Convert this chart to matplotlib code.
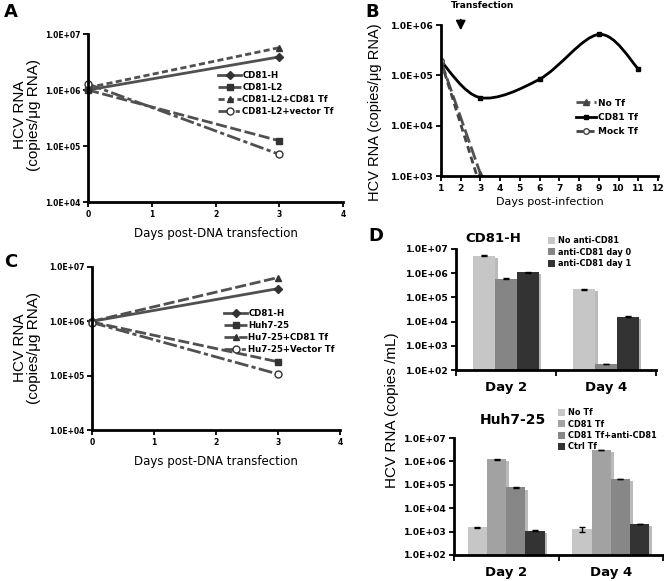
import matplotlib
matplotlib.use("Agg")
import matplotlib.pyplot as plt
import matplotlib.patheffects as pe
from matplotlib.path import Path
from matplotlib.patches import PathPatch, Patch
from matplotlib.ticker import FixedLocator, FuncFormatter, NullLocator
import numpy as np

plt.rcParams['font.family'] = ['DejaVu Sans']
plt.rcParams['font.weight'] = 'bold'

# ---- panel A data ----
a_days = [0, 3]
a_cd81h = [1.0e6, 3.9e6]
a_l2 = [1.0e6, 1.24e5]
a_l2_cd81 = [1.1e6, 5.7e6]
a_l2_vec = [1.28e6, 7.1e4]
a_labels = ["CD81-H", "CD81-L2", "CD81-L2+CD81 Tf", "CD81-L2+vector Tf"]

# ---- panel C data ----
c_days = [0, 3]
c_cd81h = [1.0e6, 4.0e6]
c_huh = [0.97e6, 1.8e5]
c_huh_cd81 = [1.0e6, 6.4e6]
c_huh_vec = [0.95e6, 1.07e5]
c_labels = ["CD81-H", "Huh7-25", "Hu7-25+CD81 Tf", "Hu7-25+Vector Tf"]

# ---- panel B data ----
b_days_cd81 = [1, 3, 6, 9, 11]
b_cd81 = [1.9e5, 3.6e4, 8.4e4, 6.5e5, 1.35e5]
b_days_short = [1, 3]
b_notf = [1.9e5, 1.1e3]
b_mock = [1.9e5, 6.0e2]
b_labels = ["No Tf", "CD81 Tf", "Mock Tf"]

# ---- panel D data ----
d_groups = ["Day 2", "Day 4"]
d_top_labels = ["No anti-CD81", "anti-CD81 day 0", "anti-CD81 day 1"]
d_top_vals = [[5.3e6, 2.2e5], [5.8e5, 1.7e2], [1.1e6, 1.6e4]]
d_top_err = [[3e5, 1e4], [3e4, 0], [5e4, 5e2]]
d_top_colors = ['#c6c6c6', '#858585', '#333333']
d_bot_labels = ["No Tf", "CD81 Tf", "CD81 Tf+anti-CD81", "Ctrl Tf"]
d_bot_vals = [[1.5e3, 1.25e3], [1.25e6, 3.1e6], [7.7e4, 1.8e5], [1.1e3, 2.1e3]]
d_bot_err = [[6e1, 2.5e2], [5e4, 0], [3e3, 5e3], [5e1, 6e1]]
d_bot_colors = ['#c6c6c6', '#a2a2a2', '#878787', '#333333']

W, H = 664, 581
fig = plt.figure(figsize=(W / 100, H / 100), dpi=100)


def ax_px(l, t, r, b):
    return fig.add_axes([l / W, 1 - b / H, (r - l) / W, (b - t) / H])


sci = FuncFormatter(lambda v, p: f"{v:.1E}")
lc = '#505050'


def style(ax, fs, lw=2):
    for s in ['top', 'right']:
        ax.spines[s].set_visible(False)
    for s in ['left', 'bottom']:
        ax.spines[s].set_linewidth(lw)
    ax.tick_params(direction='out', width=1.3, length=3.5, labelsize=fs, pad=2)
    ax.yaxis.set_minor_locator(NullLocator())
    ax.yaxis.set_major_formatter(sci)


def line_panel(ax, days, series, labels, legend_xy, third_ls):
    styles = [dict(ls='-', marker='D', ms=4),
              dict(ls=(0, (4, 1.3)), marker='s', ms=5),
              dict(ls=third_ls, marker='^', ms=5),
              dict(ls=(0, (5, 1.2, 1.5, 1.2)), marker='o', ms=5, mfc='white')]
    hs = []
    for s, lab, st in zip(series, labels, styles):
        h, = ax.plot(days, s, color=lc, lw=2, mec='#333333',
                     mfc=st.pop('mfc', '#333333'), label=lab, clip_on=False, **st)
        hs.append(h)
    ax.set_yscale('log')
    ax.set_ylim(1e4, 1e7)
    ax.set_xlim(0, 4)
    ax.set_xticks([0, 1, 2, 3, 4])
    ax.yaxis.set_major_locator(FixedLocator([1e4, 1e5, 1e6, 1e7]))
    style(ax, 5.5)
    ax.set_xlabel("Days post-DNA transfection", fontsize=8.5, labelpad=6)
    ax.legend(handles=hs, loc='upper left', bbox_to_anchor=legend_xy,
              bbox_transform=fig.transFigure, frameon=False, fontsize=6.2,
              handlelength=2.6, handletextpad=0.2, labelspacing=0.35, borderpad=0)


# ---- A ----
axA = ax_px(88, 34, 343, 202)
line_panel(axA, a_days, [a_cd81h, a_l2, a_l2_cd81, a_l2_vec], a_labels,
           (214 / W, 1 - 67 / H), (0, (2.2, 1.2)))
fig.text(27 / W, 1 - 115 / H, "HCV RNA\n(copies/\u03bcg RNA)", rotation=90,
         ha='center', va='center', fontsize=11, fontweight='normal',
         family='Liberation Sans', linespacing=1.0)
fig.text(4 / W, 1 - 12 / H, "A", fontsize=13, ha='left', va='center')

# ---- C ----
axC = ax_px(92, 267, 340, 430)
line_panel(axC, c_days, [c_cd81h, c_huh, c_huh_cd81, c_huh_vec], c_labels,
           (220 / W, 1 - 305 / H), (0, (4, 1.3)))
fig.text(27 / W, 1 - 348 / H, "HCV RNA\n(copies/\u03bcg RNA)", rotation=90,
         ha='center', va='center', fontsize=11, fontweight='normal',
         family='Liberation Sans', linespacing=1.0)
fig.text(4 / W, 1 - 262 / H, "C", fontsize=13, ha='left', va='center')

# ---- B ----
axB = ax_px(441, 25, 658, 176)
axB.set_yscale('log')
pts = np.array([b_days_cd81, np.log10(b_cd81)]).T
ext = np.vstack([pts[0], pts, pts[-1]])
verts = [pts[0]]
codes = [Path.MOVETO]
for i in range(len(pts) - 1):
    p0, p1, p2, p3 = ext[i], ext[i + 1], ext[i + 2], ext[i + 3]
    verts += [p1 + (p2 - p0) / 6, p2 - (p3 - p1) / 6, p2]
    codes += [Path.CURVE4] * 3
verts = np.array(verts)
verts[:, 1] = 10 ** verts[:, 1]
axB.add_patch(PathPatch(Path(verts, codes), fill=False, lw=2, color='black'))
axB.plot(b_days_cd81, b_cd81, ls='none', marker='s', ms=3.5, color='black')
h_notf, = axB.plot(b_days_short, b_notf, ls=(0, (5, 1.5)), lw=2, color=lc,
                   marker='^', ms=4, mfc='#444444', mec='#444444')
h_mock, = axB.plot(b_days_short, b_mock, ls=(0, (2.5, 1.5)), lw=2, color='#444444',
                   marker='o', ms=4, mfc='white', mec='#444444')
h_cd81l, = axB.plot([], [], color='black', lw=2, marker='s', ms=3.5)
axB.set_ylim(1e3, 1e6)
axB.set_xlim(1, 12)
axB.set_xticks(range(1, 13))
axB.yaxis.set_major_locator(FixedLocator([1e3, 1e4, 1e5, 1e6]))
style(axB, 6.6)
axB.set_xlabel("Days post-infection", fontsize=8, labelpad=3)
axB.legend(handles=[h_notf, h_cd81l, h_mock], labels=b_labels, loc='upper left',
           bbox_to_anchor=(571 / W, 1 - 94 / H), bbox_transform=fig.transFigure,
           frameon=False, fontsize=6.5, handlelength=2.3, handletextpad=0.2,
           labelspacing=0.6, borderpad=0)
axB.annotate('', xy=(2, 6.9e5), xytext=(2, 1.45e6), annotation_clip=False,
             arrowprops=dict(arrowstyle='-|>', lw=1.3, color='black', mutation_scale=14))
fig.text(483 / W, 1 - 6 / H, "Transfection", fontsize=6.5, ha='center', va='center')
fig.text(375 / W, 1 - 112 / H, "HCV RNA (copies/\u03bcg RNA)", rotation=90,
         ha='center', va='center', fontsize=10.5, fontweight='normal',
         family='Liberation Sans')
fig.text(365 / W, 1 - 12 / H, "B", fontsize=13, ha='left', va='center')


# ---- D ----
def bar_panel(ax, vals, errs, colors, labels, width, legend_xy):
    n = len(vals)
    x = np.arange(len(d_groups)) + 0.5
    for k in range(n):
        xs = x + (k - (n - 1) / 2) * width
        ax.bar(xs, vals[k], width=width, color=colors[k],
               path_effects=[pe.SimplePatchShadow(offset=(2, -1.5), shadow_rgbFace='0.55',
                                                  alpha=0.6), pe.Normal()])
        ax.errorbar(xs, vals[k], yerr=errs[k], fmt='none', ecolor='black',
                    elinewidth=1, capsize=2.5, capthick=1)
    hs = [Patch(facecolor=c, label=l) for c, l in zip(colors, labels)]
    ax.set_yscale('log')
    ax.set_ylim(1e2, 1e7)
    ax.set_xlim(0, 2)
    ax.yaxis.set_major_locator(FixedLocator([1e2, 1e3, 1e4, 1e5, 1e6, 1e7]))
    style(ax, 6.6)
    ax.set_xticks(x)
    ax.set_xticklabels(d_groups, fontsize=9.5)
    ax.tick_params(axis='x', which='major', length=0, pad=8)
    ax.set_xticks([0, 1, 2], minor=True)
    ax.tick_params(axis='x', which='minor', length=4, width=1.3, direction='out')
    ax.legend(handles=hs, loc='upper left', bbox_to_anchor=legend_xy,
              bbox_transform=fig.transFigure, frameon=False, fontsize=5.9,
              handlelength=0.9, handleheight=0.9, handletextpad=0.3,
              labelspacing=0.3, borderpad=0)


axD1 = ax_px(456, 249, 656, 370)
bar_panel(axD1, d_top_vals, d_top_err, d_top_colors, d_top_labels, 0.217,
          (544 / W, 1 - 232 / H))
fig.text(493 / W, 1 - 238 / H, "CD81-H", fontsize=9.5, ha='center', va='center')

axD2 = ax_px(454, 438, 663, 555)
bar_panel(axD2, d_bot_vals, d_bot_err, d_bot_colors, d_bot_labels, 0.184,
          (554 / W, 1 - 404 / H))
fig.text(513 / W, 1 - 420 / H, "Huh7-25", fontsize=10, ha='center', va='center')

fig.text(392 / W, 1 - 410 / H, "HCV RNA (copies /mL)", rotation=90,
         ha='center', va='center', fontsize=11, fontweight='normal',
         family='Liberation Sans')
fig.text(368 / W, 1 - 236 / H, "D", fontsize=13, ha='left', va='center')

fig.savefig("out.png", dpi=100)
